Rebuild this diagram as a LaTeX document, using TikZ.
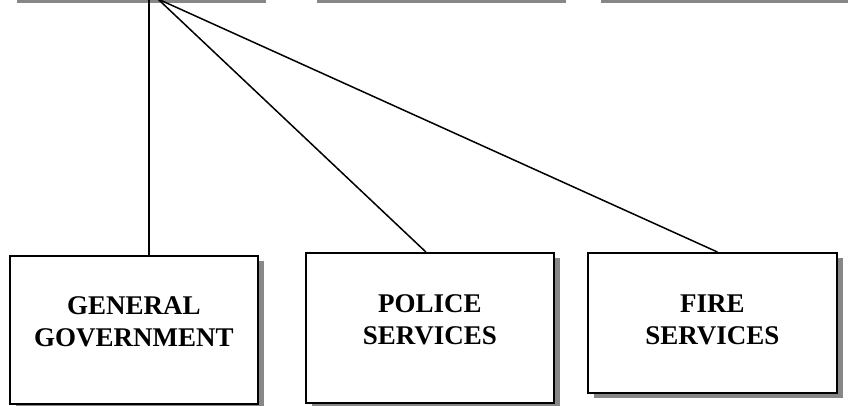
\documentclass[tikz,border=0pt]{standalone}
\usepackage{fontspec}
\setmainfont{Liberation Serif}
\usetikzlibrary{shadows,calc}

\begin{document}
\begin{tikzpicture}[x=1pt,y=-1pt,
		box/.style={draw=black, line width=1.8pt, fill=white, minimum width=248pt, anchor=north west,
			align=center, font=\fontsize{27}{32}\selectfont\bfseries,
			drop shadow={shadow xshift=6pt, shadow yshift=-5pt, fill=black!47, opacity=1}},
		lead/.style={line width=1.5pt}]
			\clip (0,0) rectangle (848,405);
			% boxes of the upper row, cut off by the top edge
			\node[box, anchor=south west, minimum height=60pt, minimum width=249pt] (top1) at (10,-1) {};
			\node[box, anchor=south west, minimum height=60pt, minimum width=249pt] (top2) at (310,-1) {};
			\node[box, anchor=south west, minimum height=60pt, minimum width=260pt] (top3) at (594,-1) {};
			% lower row
			\node[box, minimum height=148pt, text depth=16pt] (gen) at (9,255) {GENERAL\\GOVERNMENT};
			\node[box, minimum height=150pt, text depth=16pt] (pol) at (305,252) {POLICE\\SERVICES};
			\node[box, minimum height=140pt, minimum width=249pt, text depth=6pt] (fire) at (587,252) {FIRE\\SERVICES};
			\coordinate (stem) at ($(top1.south)+(13.5,0)$);
			\coordinate (apex) at ($(top1.south)+(22.5,0)$);
			\draw[lead] (stem) -- (stem |- gen.north);
			\draw[lead] (apex) -- ($(pol.north)+(-4,0)$);
			\draw[lead] (apex) -- ($(fire.north)+(5,0)$);
		\end{tikzpicture}
\end{document}
